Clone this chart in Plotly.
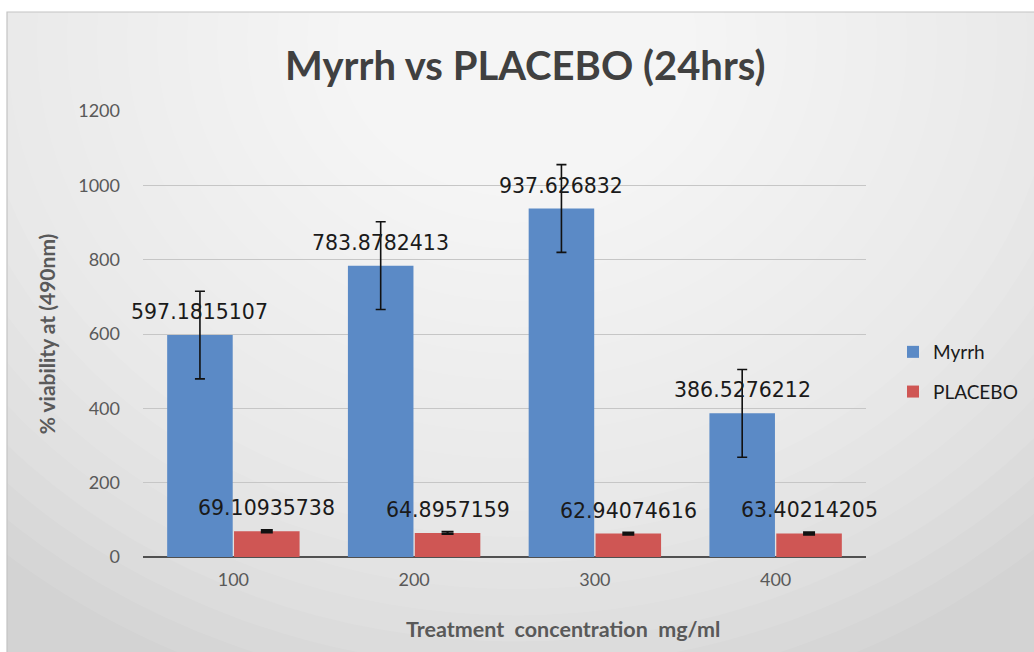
import plotly.graph_objects as go

# ---- data ----
categories = ["100", "200", "300", "400"]
myrrh = [597.1815107, 783.8782413, 937.626832, 386.5276212]
placebo = [69.10935738, 64.8957159, 62.94074616, 63.40214205]
myrrh_err = [118, 118, 118, 118]
placebo_err = [3, 3, 3, 3]
y_ticks = [0, 200, 400, 600, 800, 1000, 1200]

W, H = 1034, 652
ML, MR, MT, MB = 143, 168, 111, 95
PW, PH = W - ML - MR, H - MT - MB
BARGAP = 0.26

BLUE = "#5B8AC6"
RED = "#CF5654"

def px_to_paper_x(px):
    return (px - ML) / PW

def px_to_paper_y(py):
    return (H - MB - py) / PH

fig = go.Figure()
fig.add_trace(go.Bar(
    x=categories, y=myrrh, name="Myrrh", marker_color=BLUE, marker_line_width=0,
    error_y=dict(type="data", array=myrrh_err, visible=True, color="#111111",
                 thickness=1.6, width=5),
    legendgroup="a",
))
fig.add_trace(go.Bar(
    x=categories, y=placebo, name="PLACEBO", marker_color=RED, marker_line_width=0,
    error_y=dict(type="data", array=placebo_err, visible=True, color="#111111",
                 thickness=2.2, width=6),
    legendgroup="b",
))

# data labels above bars (category index used as x position)
cat_px = PW / len(categories)
bar_px = (1 - BARGAP) * cat_px / 2
for series, sign in ((myrrh, -1), (placebo, 1)):
    for i, v in enumerate(series):
        fig.add_annotation(
            x=i, y=v, xref="x", yref="y", text=f"{v:.10g}", showarrow=False,
            xshift=sign * bar_px / 2, yshift=9, yanchor="bottom",
            font=dict(family="DejaVu Sans", size=20.5, color="#1a1a1a"),
        )

# x-axis title (placed as in the source chart, right of centre)
fig.add_annotation(
    x=px_to_paper_x(563), y=px_to_paper_y(629), xref="paper", yref="paper",
    text="<b>Treatment\u00a0 concentration\u00a0 mg/ml</b>", showarrow=False,
    xanchor="center", yanchor="middle",
    font=dict(family="Lato", size=21.5, color="#595959"),
)

# background: gray frame with radial white glow near the top centre
shapes = []
fx0, fx1 = px_to_paper_x(7), px_to_paper_x(W + 5)
fy0, fy1 = px_to_paper_y(H + 5), px_to_paper_y(12)
shapes.append(dict(type="rect", xref="paper", yref="paper", x0=fx0, x1=fx1, y0=fy0, y1=fy1,
                   fillcolor="#D3D3D3", line_width=0, layer="below"))
cx, cy = 517, 40
N = 26
for i in range(N):
    t = 1 - i / N
    rx, ry = 780 * t, 680 * t
    shapes.append(dict(type="circle", xref="paper", yref="paper",
                       x0=px_to_paper_x(cx - rx), x1=px_to_paper_x(cx + rx),
                       y0=px_to_paper_y(cy + ry), y1=px_to_paper_y(cy - ry),
                       fillcolor="white", opacity=0.085, line_width=0, layer="below"))
# white margins outside frame
shapes.append(dict(type="rect", xref="paper", yref="paper", x0=px_to_paper_x(-5), x1=px_to_paper_x(W + 5),
                   y0=fy1, y1=px_to_paper_y(-5), fillcolor="white", line_width=0, layer="below"))
shapes.append(dict(type="rect", xref="paper", yref="paper", x0=px_to_paper_x(-5), x1=fx0,
                   y0=fy0, y1=fy1, fillcolor="white", line_width=0, layer="below"))
# frame border
shapes.append(dict(type="rect", xref="paper", yref="paper", x0=fx0, x1=fx1, y0=fy0, y1=fy1,
                   fillcolor="rgba(0,0,0,0)", line=dict(color="#C4C4C4", width=1.2), layer="below"))

fig.update_layout(
    width=W, height=H,
    margin=dict(l=ML, r=MR, t=MT, b=MB, autoexpand=False),
    paper_bgcolor="white", plot_bgcolor="rgba(0,0,0,0)",
    barmode="group", bargap=BARGAP, bargroupgap=0.02,
    shapes=shapes,
    title=dict(text="<b>Myrrh vs PLACEBO (24hrs)</b>", x=0.508, xanchor="center",
               y=1 - 66 / H, yanchor="middle", xref="container", yref="container",
               font=dict(family="Lato", size=40, color="#404040")),
    font=dict(family="Lato", color="#595959"),
    xaxis=dict(
        type="category", range=[-0.5, len(categories) - 0.5], autorange=False,
        showgrid=False, showline=False, ticks="",
        ticklabelstandoff=10,
        tickfont=dict(family="Lato", size=18, color="#595959"),
    ),
    yaxis=dict(
        range=[0, 1200], autorange=False, tickvals=y_ticks, showgrid=True,
        gridcolor="#C6C6C6", gridwidth=1,
        zeroline=True, zerolinecolor="#505050", zerolinewidth=2,
        showline=False, ticks="", ticklabelstandoff=22,
        tickfont=dict(family="Lato", size=18, color="#595959"),
        title=dict(text="<b>% viability at (490nm)</b>", standoff=16,
                   font=dict(family="Lato", size=21, color="#595959")),
    ),
    legend=dict(x=893 / W, xref="container", xanchor="left", y=px_to_paper_y(333), yanchor="top",
                bgcolor="rgba(0,0,0,0)", tracegroupgap=12,
                font=dict(family="Lato", size=19, color="#1a1a1a")),
    showlegend=True,
)

fig.write_html("out.html", config={"displayModeBar": False},
               post_script="document.body.style.margin='0';")
